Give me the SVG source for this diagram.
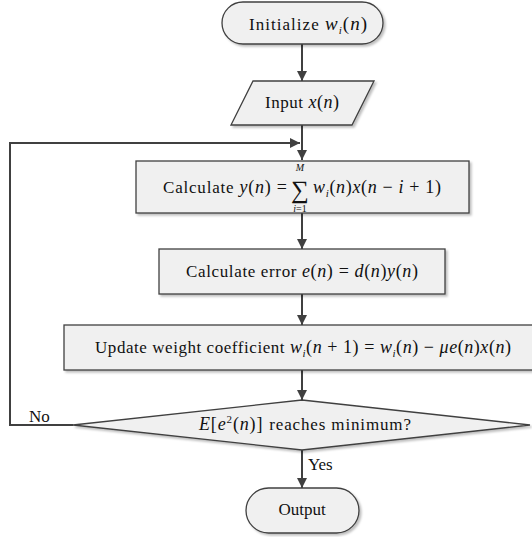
<svg xmlns="http://www.w3.org/2000/svg" width="532" height="537" viewBox="0 0 532 537">
<defs>
<filter id="sh" x="-5%" y="-10%" width="112%" height="130%">
<feDropShadow dx="2" dy="2" stdDeviation="1" flood-color="#000" flood-opacity="0.25"/>
</filter>
<marker id="ah" viewBox="0 0 10 10" refX="10" refY="5" markerWidth="10" markerHeight="10" markerUnits="userSpaceOnUse" orient="auto">
<path d="M0,0 L10,5 L0,10 Z" fill="#404040"/>
</marker>
</defs>
<style>
.shape{fill:#f0f0f0;stroke:#404040;stroke-width:1.3;filter:url(#sh)}
.t{fill:#111;font-family:"Liberation Serif","Times New Roman",serif;font-size:17px}
.m{font-style:italic;font-size:18px}
.u{font-size:18px}
.s{font-style:italic;font-size:11px}
.c{stroke:#404040;stroke-width:2;fill:none}
</style>
<rect width="532" height="537" fill="#fff"/>
<g id="connectors">
<line class="c" x1="302" y1="44" x2="302" y2="81" marker-end="url(#ah)"/>
<line class="c" x1="302" y1="125" x2="302" y2="160" marker-end="url(#ah)"/>
<polyline class="c" points="73,425 10,425 10,143 300,143" marker-end="url(#ah)"/>
<line class="c" x1="302" y1="213" x2="302" y2="249" marker-end="url(#ah)"/>
<line class="c" x1="302" y1="294" x2="302" y2="325" marker-end="url(#ah)"/>
<line class="c" x1="302" y1="370" x2="302" y2="400" marker-end="url(#ah)"/>
<line class="c" x1="302" y1="450" x2="302" y2="488" marker-end="url(#ah)"/>
<text class="t" x="29" y="422">No</text>
<text class="t" x="308" y="470">Yes</text>
</g>
<g id="init">
<rect class="shape" x="222" y="2" width="161" height="42" rx="21"/>
<text class="t" x="249" y="30" textLength="118">Initialize <tspan class="m" style="font-size:19px">w</tspan><tspan class="s" dy="4">i</tspan><tspan class="u" style="font-size:19px" dy="-4">(</tspan><tspan class="m" style="font-size:19px">n</tspan><tspan class="u" style="font-size:19px">)</tspan></text>
</g>
<g id="input">
<polygon class="shape" points="253,81 374,81 352,125 231,125"/>
<text class="t" x="265" y="108" textLength="74">Input <tspan class="m">x</tspan><tspan class="u">(</tspan><tspan class="m">n</tspan><tspan class="u">)</tspan></text>
</g>
<g id="calc-y">
<rect class="shape" x="136" y="161" width="333" height="52"/>
<text class="t" x="163" y="193" textLength="124">Calculate <tspan class="m">y</tspan><tspan class="u">(</tspan><tspan class="m">n</tspan><tspan class="u">) =</tspan></text>
<text class="t" x="300" y="198" text-anchor="middle" style="font-size:25px">∑</text>
<text class="t" x="300" y="171" text-anchor="middle" style="font-size:10px;font-style:italic">M</text>
<text class="t" x="300" y="212" text-anchor="middle" style="font-size:10px"><tspan font-style="italic">i</tspan>=1</text>
<text class="t" x="313" y="193" textLength="128"><tspan class="m">w</tspan><tspan class="s" dy="4">i</tspan><tspan class="u" dy="-4">(</tspan><tspan class="m">n</tspan><tspan class="u">)</tspan><tspan class="m">x</tspan><tspan class="u">(</tspan><tspan class="m">n</tspan><tspan class="u"> − </tspan><tspan class="m">i</tspan><tspan class="u"> + 1)</tspan></text>
</g>
<g id="calc-e">
<rect class="shape" x="159" y="249" width="286" height="45"/>
<text class="t" x="186" y="277" textLength="232">Calculate error <tspan class="m">e</tspan><tspan class="u">(</tspan><tspan class="m">n</tspan><tspan class="u">) = </tspan><tspan class="m">d</tspan><tspan class="u">(</tspan><tspan class="m">n</tspan><tspan class="u">)</tspan><tspan class="m">y</tspan><tspan class="u">(</tspan><tspan class="m">n</tspan><tspan class="u">)</tspan></text>
</g>
<g id="update">
<rect class="shape" x="64" y="325" width="475" height="45"/>
<text class="t" x="95" y="353" textLength="416">Update weight coefficient <tspan class="m">w</tspan><tspan class="s" dy="4">i</tspan><tspan class="u" dy="-4">(</tspan><tspan class="m">n</tspan><tspan class="u"> + 1) = </tspan><tspan class="m">w</tspan><tspan class="s" dy="4">i</tspan><tspan class="u" dy="-4">(</tspan><tspan class="m">n</tspan><tspan class="u">) − </tspan><tspan class="m">μe</tspan><tspan class="u">(</tspan><tspan class="m">n</tspan><tspan class="u">)</tspan><tspan class="m">x</tspan><tspan class="u">(</tspan><tspan class="m">n</tspan><tspan class="u">)</tspan></text>
</g>
<g id="decision">
<polygon class="shape" points="302,400 530,425 302,450 73,425"/>
<text class="t" x="199" y="430" textLength="212"><tspan class="m">E</tspan><tspan class="u">[</tspan><tspan class="m">e</tspan><tspan style="font-size:11px" dy="-7">2</tspan><tspan class="u" dy="7">(</tspan><tspan class="m">n</tspan><tspan class="u">)]</tspan><tspan dx="6">reaches minimum?</tspan></text>
</g>
<g id="output">
<rect class="shape" x="246" y="488" width="113" height="45" rx="22.5"/>
<text class="t" x="302" y="515" text-anchor="middle">Output</text>
</g>
</svg>
